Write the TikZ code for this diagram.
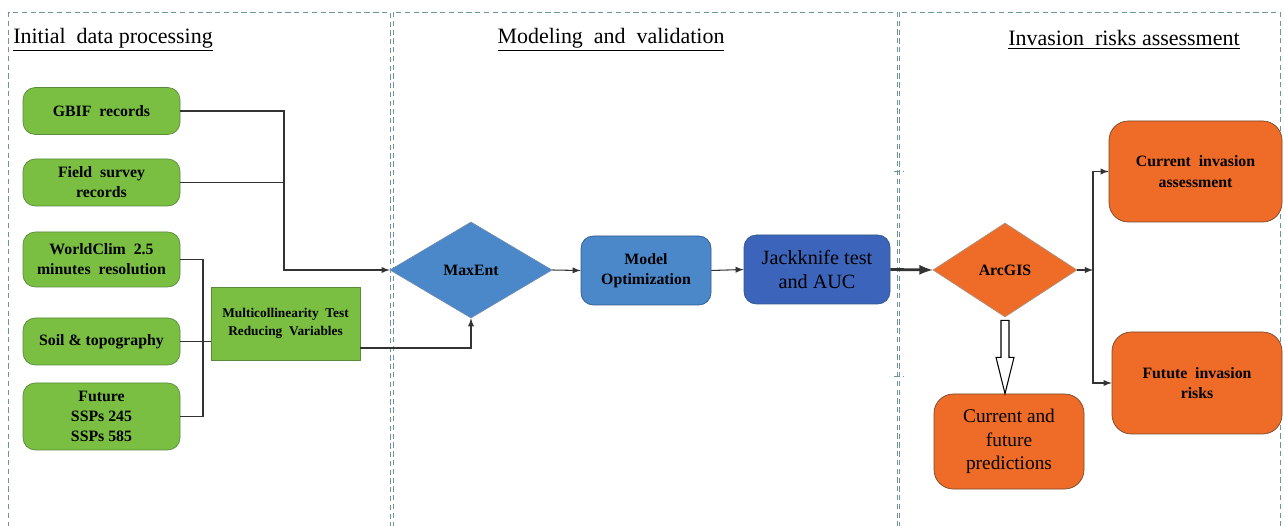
\documentclass[tikz,border=0pt]{standalone}
\usepackage{fontspec}
\setmainfont{Liberation Serif}
\usetikzlibrary{calc,shapes.geometric}

\definecolor{leafgreen}{RGB}{122,190,66}
\definecolor{leafedge}{RGB}{88,140,60}
\definecolor{midblue}{RGB}{74,136,202}
\definecolor{deepblue}{RGB}{60,100,186}
\definecolor{blueedge}{RGB}{50,90,140}
\definecolor{rust}{RGB}{238,108,40}
\definecolor{rustedge}{RGB}{120,70,40}
\definecolor{panelline}{RGB}{110,150,150}

\begin{document}
\begin{tikzpicture}[x=0.02cm,y=-0.02cm,
    panel/.style={draw=panelline,densely dashed,line width=0.4pt},
    heading/.style={font=\fontsize{12.5}{15}\selectfont},
    greenbox/.style={draw=leafedge,fill=leafgreen,rounded corners=7pt,align=center,
      font=\fontsize{9}{11.3}\selectfont\bfseries,inner sep=2pt},
    bluebox/.style={draw=blueedge,fill=midblue,rounded corners=7pt,align=center,inner sep=2pt},
    orangebox/.style={draw=rustedge,fill=rust,rounded corners=11pt,align=center,inner sep=2pt},
    choice/.style={diamond,aspect=1.7,inner sep=0pt,font=\fontsize{9}{11}\selectfont\bfseries},
    link/.style={draw=black!80,line width=0.6pt},
    arrow/.style={link,-latex}]
  \useasboundingbox (0,0) rectangle (1284,526);
  \clip (0,0) rectangle (1284,526);

  \draw[panel] (8,12) rectangle (390,540);
  \draw[panel] (393,12) rectangle (897,540);
  \draw[panel] (899,12) rectangle (1280,540);
  \draw[panel] (894,171) -- (903,171);
  \draw[panel] (894,376) -- (903,376);

  \node[heading] (head1) at (113,40) {\underline{Initial\ \ data processing}};
  \node[heading] (head2) at (611,40) {\underline{Modeling\ \ and\ \ validation}};
  \node[heading] (head3) at (1124,40) {\underline{Invasion\ \ risks assessment}};

  \node[greenbox,minimum width=157*0.02cm,minimum height=47*0.02cm] (gbif) at (101.5,111) {GBIF\ \ records};
  \node[greenbox,minimum width=157*0.02cm,minimum height=47*0.02cm] (field) at (101.5,182.5) {Field\ \ survey\\records};
  \node[greenbox,minimum width=157*0.02cm,minimum height=55*0.02cm] (wclim) at (101.5,259.5) {WorldClim\ \ 2.5\\minutes\ \ resolution};
  \node[greenbox,minimum width=157*0.02cm,minimum height=47*0.02cm] (soil) at (101.5,341.5) {Soil \& topography};
  \node[greenbox,minimum width=157*0.02cm,minimum height=67*0.02cm] (future) at (101.5,416.5) {Future\\SSPs 245\\SSPs 585};
  \node[greenbox,rounded corners=0pt,minimum width=149*0.02cm,minimum height=73*0.02cm,
        font=\fontsize{7.6}{10}\selectfont\bfseries] (multi) at (285.5,323.5) {Multicollinearity\ \ Test\\Reducing\ \ Variables};

  \node[choice,draw=blueedge!70,fill=midblue,minimum width=162*0.02cm,minimum height=96*0.02cm] (maxent) at (471,270) {MaxEnt};
  \node[bluebox,minimum width=130*0.02cm,minimum height=69*0.02cm,
        font=\fontsize{9}{11.5}\selectfont\bfseries] (model) at (646,270.5) {Model\\Optimization};
  \node[bluebox,fill=deepblue,minimum width=146*0.02cm,minimum height=69*0.02cm,
        font=\fontsize{11.5}{13.5}\selectfont] (jack) at (817,269.5) {Jackknife test\\and AUC};

  \node[choice,draw=rustedge!60,fill=rust,minimum width=144*0.02cm,minimum height=94*0.02cm] (arcgis) at (1005,270) {ArcGIS};
  \node[orangebox,minimum width=173*0.02cm,minimum height=101*0.02cm,
        font=\fontsize{9}{11.5}\selectfont\bfseries] (cur) at (1195.5,171.5) {Current\ \ invasion\\assessment};
  \node[orangebox,minimum width=170*0.02cm,minimum height=102*0.02cm,
        font=\fontsize{9}{11.5}\selectfont\bfseries] (fut) at (1197,383) {Futute\ \ invasion\\risks};
  \node[orangebox,minimum width=150*0.02cm,minimum height=95*0.02cm,
        font=\fontsize{11}{13.2}\selectfont] (pred) at (1009,441.5) {Current and\\future\\predictions};

  \coordinate (join) at (284,270);
  \draw[arrow] (gbif.east) -| (join) -- (maxent.west);
  \draw[link] (field.east) -- (field.east -| join);

  \coordinate (brace) at (203,341.5);
  \draw[link] (wclim.east) -| (brace) |- (future.east);
  \draw[link] (soil.east) -- (soil.east -| multi.west);
  \draw[arrow] ($(multi.east)+(0,24.5)$) -| (maxent.south);

  \draw[arrow] (maxent.east) -- (model.west);
  \draw[arrow] (model.west -| model.east) -- (jack.west);
  \draw[arrow,line width=1.6pt] (jack.east) -- (arcgis.west);

  \coordinate (fork) at (1093,270);
  \draw[arrow] (arcgis.east) -- (fork);
  \draw[arrow] (fork) |- (cur.west);
  \draw[arrow] (fork) |- (fut.west);

  \draw[line width=0.6pt,fill=white] ($(arcgis.south)+(-4,3)$) -- ($(arcgis.south)+(4,3)$)
    -- ($(arcgis.south)+(4,40)$) -- ($(arcgis.south)+(9,40)$) -- (arcgis.south |- pred.north)
    -- ($(arcgis.south)+(-9,40)$) -- ($(arcgis.south)+(-4,40)$) -- cycle;
\end{tikzpicture}
\end{document}
